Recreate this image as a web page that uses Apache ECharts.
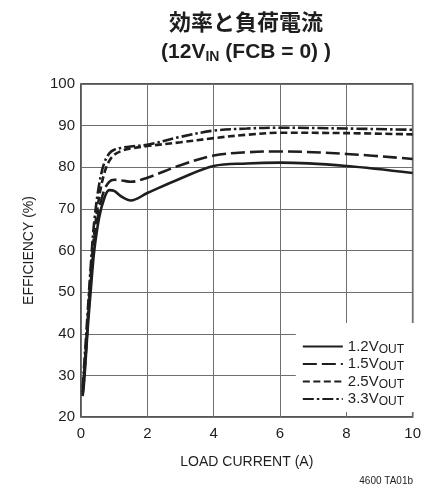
<!DOCTYPE html>
<html>
<head>
<meta charset="utf-8">
<script src="https://cdn.jsdelivr.net/npm/echarts@6/dist/echarts.min.js"></script>
<style>html,body{margin:0;padding:0;background:#fff;}#c{width:424px;height:496px;}</style>
</head>
<body>
<div id="c"></div>
<script>
const loadA = [0.05,0.1,0.2,0.3,0.4,0.55,0.7,0.85,1.0,1.25,1.5,2,3,4,5,6,8,10];
const eff12 = [25,29,41,51,60,68,72.5,74.5,74.3,72.8,72,73.8,77.3,80.3,80.9,81.1,80.3,78.6];
const eff15 = [25.5,30,42,53,62,70,74.5,76.5,77,76.8,76.5,77.5,80.5,82.8,83.6,83.8,83.2,82];
const eff25 = [26,31,43,55,64,73,78.5,81.5,83,84,84.5,85.1,86,87,87.8,88.3,88.2,87.9];
const eff33 = [27,33,45,57,67,76,81,83.3,84.2,84.7,85,85.4,87.3,88.8,89.3,89.5,89.3,89];
const seriesNames = ['1.2V','1.5V','2.5V','3.3V'];
const xTicks = [0,2,4,6,8,10];
const yTicks = [20,30,40,50,60,70,80,90,100];

const SANS = "'Liberation Sans',Arial,sans-serif";
const CJK = "'Noto Sans CJK JP',sans-serif";
const INK = '#1e1e1e';

function pts(ys){ return loadA.map((x,i)=>[x, ys[i]]); }
const dashes = ['solid',[14,5],[7,3.5],[11,3,2.5,3]];
const allVals = [eff12, eff15, eff25, eff33];

const chart = echarts.init(document.getElementById('c'), null, {renderer:'canvas'});
chart.setOption({
  animation:false,
  backgroundColor:'#fff',
  color:[INK,INK,INK,INK],
  grid:{left:81,right:9,top:84,bottom:79,show:true,borderColor:INK,borderWidth:1.5,backgroundColor:'transparent'},
  xAxis:{type:'value',min:0,max:10,interval:2,
    axisLine:{show:false},axisTick:{show:false},
    splitLine:{show:true,lineStyle:{color:'#6f6f6f',width:1}},
    axisLabel:{margin:9,fontFamily:SANS,fontSize:15,color:INK,formatter:v=>xTicks.includes(v)?String(v):''},
    name:'LOAD CURRENT (A)',nameLocation:'middle',nameGap:38,
    nameTextStyle:{fontFamily:SANS,fontSize:14,color:INK}},
  yAxis:{type:'value',min:20,max:100,interval:10,
    axisLine:{show:false},axisTick:{show:false},
    splitLine:{show:true,lineStyle:{color:'#6f6f6f',width:1}},
    axisLabel:{margin:6,fontFamily:SANS,fontSize:15,color:INK,formatter:v=>yTicks.includes(v)?String(v):''},
    name:'EFFICIENCY (%)',nameLocation:'middle',nameGap:45,
    nameTextStyle:{fontFamily:SANS,fontSize:14,color:INK}},
  legend:{orient:'vertical',right:10,bottom:84,
    backgroundColor:'#fff',padding:[16,10,4,6],
    itemWidth:40,itemHeight:14,itemGap:1,
    data:seriesNames,
    itemStyle:{opacity:0},
    formatter:n=>n+'{sub|OUT}',
    textStyle:{fontFamily:SANS,fontSize:15,color:INK,
      rich:{sub:{fontFamily:SANS,fontSize:12,color:INK,padding:[6,0,0,0]}}}},
  series: seriesNames.map((n,i)=>({
    name:n,type:'line',data:pts(allVals[i]),smooth:0.35,
    symbol:'none',showSymbol:false,
    itemStyle:{color:INK},
    lineStyle:{color:INK,width:2.6,type:dashes[i]},
    z:10-i
  })),
  graphic:[
    {type:'text',x:246,y:22,style:{text:'効率と負荷電流',fill:INK,
      font:"bold 22px "+CJK,textAlign:'center',textVerticalAlign:'middle'}},
    {type:'text',x:246,y:52,style:{text:'(12V{sub|IN} (FCB = 0) )',fill:INK,
      font:"bold 21px "+SANS,textAlign:'center',textVerticalAlign:'middle',
      rich:{sub:{font:"bold 14px "+SANS,fill:INK,padding:[10,0,0,0]}}}},
    {type:'text',x:413,y:481,style:{text:'4600 TA01b',fill:INK,
      font:"10px "+SANS,textAlign:'right',textVerticalAlign:'middle'}}
  ]
});
</script>
</body>
</html>
